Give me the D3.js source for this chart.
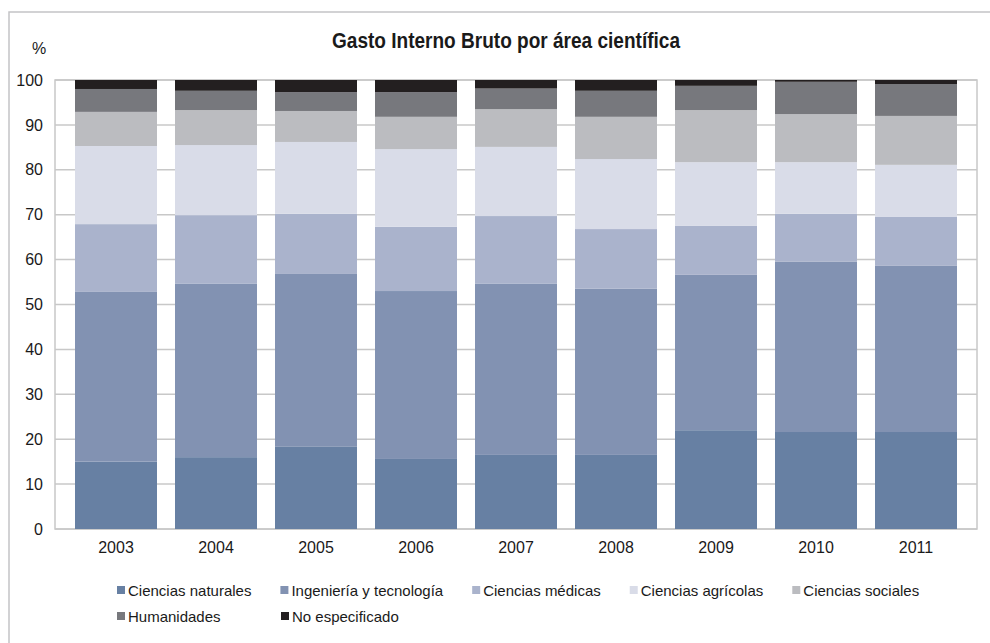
<!DOCTYPE html>
<html>
<head>
<meta charset="utf-8">
<script src="https://cdn.jsdelivr.net/npm/d3@7"></script>
<style>
  body { margin: 0; background: #fff; }
  svg { display: block; font-family: "Liberation Sans", Arial, sans-serif; }
</style>
</head>
<body>
<div id="chart"></div>
<script>
// Data (% of total per year)
const years = ["2003", "2004", "2005", "2006", "2007", "2008", "2009", "2010", "2011"];
const areas = ["Ciencias naturales", "Ingeniería y tecnología", "Ciencias médicas",
  "Ciencias agrícolas", "Ciencias sociales", "Humanidades", "No especificado"];
const naturales   = [15.0, 16.0, 18.3, 15.6, 16.5, 16.5, 22.0, 21.6, 21.6];
const ingenieria  = [37.8, 38.6, 38.5, 37.4, 38.1, 37.0, 34.6, 37.9, 37.0];
const medicas     = [15.1, 15.3, 13.4, 14.3, 15.1, 13.3, 10.9, 10.7, 10.9];
const agricolas   = [17.4, 15.6, 16.0, 17.3, 15.4, 15.6, 14.2, 11.5, 11.6];
const sociales    = [7.6, 7.8, 6.9, 7.2, 8.4, 9.4, 11.6, 10.7, 10.9];
const humanidades = [5.1, 4.3, 4.2, 5.5, 4.6, 5.8, 5.4, 7.2, 7.1];
const noEspec     = [2.0, 2.4, 2.7, 2.7, 1.9, 2.4, 1.3, 0.4, 0.9];
const yTicks = [0, 10, 20, 30, 40, 50, 60, 70, 80, 90, 100];

const colors = ["#6780a3", "#8292b2", "#aab3cc", "#d9dce8", "#bbbcc0", "#77787d", "#231f20"];
const series = [naturales, ingenieria, medicas, agricolas, sociales, humanidades, noEspec];

const W = 990, H = 643;
const plot = { left: 55, right: 977, top: 80, bottom: 529 };

const table = years.map((yr, i) => {
  const row = { year: yr };
  areas.forEach((a, k) => row[a] = series[k][i]);
  return row;
});
const stacked = d3.stack().keys(areas)(table);

const svg = d3.select("#chart").append("svg")
  .attr("width", W)
  .attr("height", H);

// outer frame (only left and top edges show in the picture)
svg.append("rect")
  .attr("x", 9).attr("y", 12)
  .attr("width", W + 20).attr("height", H + 20)
  .attr("fill", "none")
  .attr("stroke", "#c4c4c6")
  .attr("stroke-width", 1.5);

const x = d3.scaleBand()
  .domain(years)
  .range([plot.left, plot.right])
  .paddingInner(0.18)
  .paddingOuter(0.2);

const y = d3.scaleLinear()
  .domain([0, 100])
  .range([plot.bottom, plot.top]);

// gridlines
svg.append("g")
  .selectAll("line")
  .data(yTicks)
  .enter()
  .append("line")
  .attr("x1", plot.left).attr("x2", plot.right)
  .attr("y1", d => y(d)).attr("y2", d => y(d))
  .attr("stroke", "#c8c8c8")
  .attr("stroke-width", 1.5);

// plot area border
svg.append("rect")
  .attr("x", plot.left).attr("y", plot.top)
  .attr("width", plot.right - plot.left).attr("height", plot.bottom - plot.top)
  .attr("fill", "none")
  .attr("stroke", "#c8c8c8")
  .attr("stroke-width", 1.5);

// bars
svg.append("g")
  .selectAll("g")
  .data(stacked)
  .enter()
  .append("g")
  .attr("fill", (d, i) => colors[i])
  .selectAll("rect")
  .data(d => d)
  .enter()
  .append("rect")
  .attr("x", d => x(d.data.year))
  .attr("width", x.bandwidth())
  .attr("y", d => y(d[1]))
  .attr("height", d => y(d[0]) - y(d[1]));

// y axis labels
svg.append("g")
  .attr("transform", `translate(${plot.left},0)`)
  .call(d3.axisLeft(y).tickValues(yTicks).tickSize(0).tickPadding(12))
  .call(g => g.select(".domain").remove())
  .selectAll("text")
  .style("font-family", "'Liberation Sans', Arial, sans-serif")
  .style("font-size", "16px")
  .attr("fill", "#1a1a1a");

// x axis labels
svg.append("g")
  .attr("transform", `translate(0,${plot.bottom})`)
  .call(d3.axisBottom(x).tickSize(0).tickPadding(13))
  .call(g => g.select(".domain").remove())
  .selectAll("text")
  .style("font-family", "'Liberation Sans', Arial, sans-serif")
  .style("font-size", "16px")
  .attr("fill", "#1a1a1a");

svg.append("text")
  .attr("x", 39).attr("y", 54)
  .attr("text-anchor", "middle")
  .style("font-size", "16px")
  .attr("fill", "#1a1a1a")
  .text("%");

// title (condensed look: squeeze Liberation Sans Bold to the reference width)
svg.append("text")
  .attr("x", 332).attr("y", 48)
  .attr("textLength", 348)
  .attr("lengthAdjust", "spacingAndGlyphs")
  .style("font-family", "'Liberation Sans', Arial, sans-serif")
  .style("font-weight", "bold")
  .style("font-size", "22px")
  .attr("fill", "#1a1a1a")
  .text("Gasto Interno Bruto por área científica");

// legend: 5 items on first row, rest on second
const legend = svg.append("g");
const rowY = [590, 616];
let lx = 117, row = 0;
areas.forEach((a, i) => {
  if (i === 5) { row = 1; lx = 117; }
  const item = legend.append("g").attr("transform", `translate(${lx},${rowY[row]})`);
  item.append("rect")
    .attr("x", 0).attr("y", -4)
    .attr("width", 8).attr("height", 8)
    .attr("fill", colors[i]);
  const t = item.append("text")
    .attr("x", 11).attr("y", 5.5)
    .style("font-size", "15px")
    .attr("fill", "#1a1a1a")
    .text(a);
  const w = t.node().getComputedTextLength();
  lx += row === 0 ? 11 + w + 29 : 164;
});
</script>
</body>
</html>
